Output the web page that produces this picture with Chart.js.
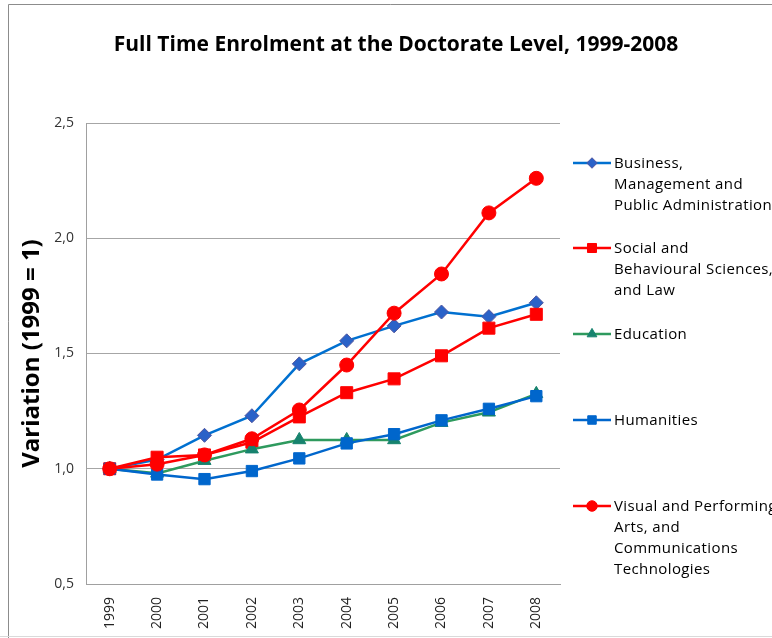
<!DOCTYPE html>
<html>
<head>
<meta charset="utf-8">
<script src="https://cdn.jsdelivr.net/npm/chart.js@4/dist/chart.umd.min.js"></script>
<style>
  html, body { margin: 0; padding: 0; background: #fff; }
  #wrap { width: 772px; height: 638px; position: relative; }
</style>
</head>
<body>
<div id="wrap"><canvas id="chart1" width="772" height="638"></canvas></div>
<script>
const years = ['1999', '2000', '2001', '2002', '2003', '2004', '2005', '2006', '2007', '2008'];

const business   = [1.00, 1.04, 1.145, 1.23, 1.455, 1.555, 1.62, 1.68, 1.66, 1.72];
const social     = [1.00, 1.05, 1.06, 1.115, 1.225, 1.33, 1.39, 1.49, 1.61, 1.67];
const education  = [1.00, 0.98, 1.035, 1.085, 1.125, 1.125, 1.125, 1.20, 1.245, 1.325];
const humanities = [1.00, 0.975, 0.955, 0.99, 1.045, 1.11, 1.15, 1.21, 1.26, 1.315];
const visual     = [1.00, 1.02, 1.06, 1.13, 1.255, 1.45, 1.675, 1.845, 2.11, 2.26];

// legend text, one array entry per line
const legendLines = [
    ['Business,', 'Management and', 'Public Administration'],
    ['Social and', 'Behavioural Sciences,', 'and Law'],
    ['Education'],
    ['Humanities'],
    ['Visual and Performing', 'Arts, and', 'Communications', 'Technologies']
];

const yTicks = [0.5, 1.0, 1.5, 2.0, 2.5];

const FONT = "'Open Sans', 'DejaVu Sans', sans-serif";

function series(label, data, line, fill, edge, style, radius, order) {
    return {
        label: label,
        data: data,
        borderColor: line,
        borderWidth: 2.5,
        pointStyle: style,
        pointRadius: radius,
        pointHoverRadius: radius,
        pointBackgroundColor: fill,
        pointBorderColor: edge,
        pointBorderWidth: 1,
        tension: 0,
        fill: false,
        order: order
    };
}

const datasets = [
    series('Business, Management and Public Administration', business, '#0070D0', '#2A62C8', '#51559E', 'rectRot', 7, 5),
    series('Social and Behavioural Sciences, and Law', social, '#FF0000', '#FF0000', '#FF0000', 'rect', 8.5, 4),
    series('Education', education, '#2E9A5E', '#17836E', '#17836E', 'triangle', 7.5, 3),
    series('Humanities', humanities, '#0066CC', '#0066CC', '#0066CC', 'rect', 8, 2),
    series('Visual and Performing Arts, and Communications Technologies', visual, '#FF0000', '#FF0000', '#FF0000', 'circle', 7, 1)
];

function marker(ctx, style, x, y, r) {
    ctx.beginPath();
    if (style === 'circle') {
        ctx.arc(x, y, r, 0, Math.PI * 2);
    } else if (style === 'rect') {
        const s = r * Math.SQRT1_2;
        ctx.rect(x - s, y - s, 2 * s, 2 * s);
    } else if (style === 'rectRot') {
        ctx.moveTo(x, y - r); ctx.lineTo(x + r, y); ctx.lineTo(x, y + r); ctx.lineTo(x - r, y);
        ctx.closePath();
    } else if (style === 'triangle') {
        ctx.moveTo(x, y - r);
        ctx.lineTo(x + r * Math.sin(Math.PI * 2 / 3), y - r * Math.cos(Math.PI * 2 / 3));
        ctx.lineTo(x + r * Math.sin(Math.PI * 4 / 3), y - r * Math.cos(Math.PI * 4 / 3));
        ctx.closePath();
    }
    ctx.fill();
    ctx.stroke();
}

// frame, title and the right-hand legend
const decor = {
    id: 'decor',
    beforeDraw(chart) {
        const ctx = chart.ctx;
        ctx.save();
        ctx.fillStyle = '#fff';
        ctx.fillRect(0, 0, chart.width, chart.height);
        ctx.strokeStyle = '#8C8C8C';
        ctx.lineWidth = 1;
        ctx.beginPath();
        ctx.moveTo(8.5, 640); ctx.lineTo(8.5, 4.5); ctx.lineTo(780, 4.5);
        ctx.stroke();
        ctx.strokeStyle = '#DADADA';
        ctx.beginPath();
        ctx.moveTo(0, 636.5); ctx.lineTo(772, 636.5);
        ctx.stroke();
        ctx.restore();
    },
    afterDraw(chart) {
        const ctx = chart.ctx;
        ctx.save();
        ctx.fillStyle = '#000';
        ctx.font = 'bold 21px ' + FONT;
        ctx.textAlign = 'center';
        ctx.textBaseline = 'middle';
        ctx.fillText('Full Time Enrolment at the Doctorate Level, 1999-2008', 396, 45);

        ctx.font = '15px ' + FONT;
        ctx.letterSpacing = '0.4px';
        ctx.textAlign = 'left';
        const rowY = [163, 248, 334, 420, 506];
        chart.data.datasets.forEach((ds, i) => {
            const y = rowY[i];
            ctx.strokeStyle = ds.borderColor;
            ctx.lineWidth = 2.5;
            ctx.beginPath();
            ctx.moveTo(573, y); ctx.lineTo(611, y);
            ctx.stroke();
            ctx.fillStyle = ds.pointBackgroundColor;
            ctx.strokeStyle = ds.pointBorderColor;
            ctx.lineWidth = 1;
            marker(ctx, ds.pointStyle, 592, y, ds.pointRadius * 0.75);
            ctx.fillStyle = '#000';
            legendLines[i].forEach((t, k) => {
                ctx.fillText(t, 614, y + 1 + k * 21);
            });
        });
        ctx.restore();
    }
};

new Chart(document.getElementById('chart1').getContext('2d'), {
    type: 'line',
    data: { labels: years, datasets: datasets },
    options: {
        responsive: false,
        animation: false,
        layout: { padding: { left: 0, top: 123, right: 212, bottom: 0 } },
        plugins: {
            legend: { display: false },
            title: { display: false },
            tooltip: { enabled: false }
        },
        scales: {
            x: {
                offset: true,
                grid: { display: false, drawTicks: false },
                border: { display: true, color: '#A0A0A0', width: 1 },
                ticks: {
                    color: '#222',
                    font: { family: FONT, size: 14 },
                    minRotation: 90,
                    maxRotation: 90,
                    padding: 13
                },
                afterFit(scale) { scale.height = 54; }
            },
            y: {
                min: 0.5,
                max: 2.5,
                afterBuildTicks(scale) { scale.ticks = yTicks.map(v => ({ value: v })); },
                grid: { color: '#A6A6A6', lineWidth: 1, drawTicks: false },
                border: { display: true, color: '#A0A0A0', width: 1 },
                ticks: {
                    color: '#333',
                    font: { family: FONT, size: 14 },
                    padding: 12,
                    callback: v => v.toFixed(1).replace('.', ',')
                },
                title: {
                    display: true,
                    text: 'Variation (1999 = 1)',
                    color: '#000',
                    font: { family: FONT, size: 24, weight: 'bold' },
                    padding: { top: 18, bottom: 0 }
                },
                afterFit(scale) { scale.width = 86; }
            }
        }
    },
    plugins: [decor]
});
</script>
</body>
</html>
